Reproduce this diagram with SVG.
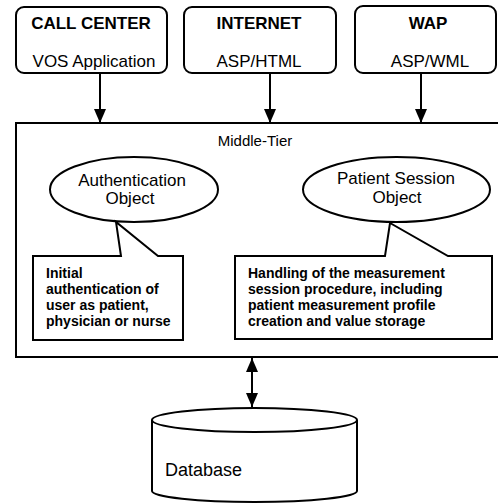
<svg xmlns="http://www.w3.org/2000/svg" width="498" height="504" viewBox="0 0 498 504">
  <style>
    .shape { fill: #fff; stroke: #000; stroke-width: 2; }
    .line { fill: none; stroke: #000; stroke-width: 2; }
    text { font-family: "Liberation Sans", Arial, sans-serif; fill: #000; }
    .title { font-size: 17px; font-weight: bold; text-anchor: middle; }
    .sub { font-size: 17px; text-anchor: middle; }
    .obj { font-size: 17px; text-anchor: middle; }
    .note { font-size: 14px; font-weight: bold; }
    .tier { font-size: 15px; text-anchor: middle; }
    .db { font-size: 18px; }
  </style>
  <defs>
    <marker id="arrow" viewBox="0 0 14 12" refX="14" refY="6" markerWidth="14" markerHeight="12" markerUnits="userSpaceOnUse" orient="auto-start-reverse">
      <path d="M0,0 L14,6 L0,12 Z" fill="#000"/>
    </marker>
  </defs>
  <rect width="498" height="504" fill="#fff"/>

  <!-- client front ends -->
  <g id="call-center">
    <rect class="shape" x="16" y="7" width="151" height="66" rx="8"/>
    <text class="title" x="91" y="29">CALL CENTER</text>
    <text class="sub" x="94" y="67">VOS Application</text>
  </g>
  <g id="internet">
    <rect class="shape" x="184" y="7" width="152" height="66" rx="8"/>
    <text class="title" x="259" y="29">INTERNET</text>
    <text class="sub" x="259" y="67">ASP/HTML</text>
  </g>
  <g id="wap">
    <rect class="shape" x="355" y="6" width="141" height="67" rx="8"/>
    <text class="title" x="428" y="29">WAP</text>
    <text class="sub" x="430" y="67">ASP/WML</text>
  </g>

  <!-- middle tier container -->
  <g id="middle-tier">
    <rect class="shape" x="16" y="123" width="490" height="234"/>
    <text class="tier" x="255" y="146">Middle-Tier</text>
  </g>

  <g id="authentication-object">
    <ellipse class="shape" cx="134" cy="189.5" rx="84" ry="32.5"/>
    <text class="obj" x="132" y="186">Authentication</text>
    <text class="obj" x="130" y="204">Object</text>
  </g>
  <g id="authentication-note">
    <path class="shape" d="M33,256 H121 L116,222 L158,256 H183 V340 H33 Z"/>
    <text class="note" x="46" y="278">Initial</text>
    <text class="note" x="46" y="294">authentication of</text>
    <text class="note" x="46" y="310">user as patient,</text>
    <text class="note" x="46" y="326">physician or nurse</text>
  </g>

  <g id="patient-session-object">
    <ellipse class="shape" cx="396.5" cy="189.5" rx="93.5" ry="32.5"/>
    <text class="obj" x="396" y="184">Patient Session</text>
    <text class="obj" x="397" y="203">Object</text>
  </g>
  <g id="patient-session-note">
    <path class="shape" d="M235,256 H385 L390,223 L448,256 H492 V339 H235 Z"/>
    <text class="note" x="248" y="278">Handling of the measurement</text>
    <text class="note" x="248" y="294">session procedure, including</text>
    <text class="note" x="248" y="310">patient measurement profile</text>
    <text class="note" x="248" y="326">creation and value storage</text>
  </g>

  <!-- storage -->
  <g id="database">
    <path class="shape" d="M152,420 V491 A102.5,11 0 0 0 357,491 V420"/>
    <ellipse class="shape" cx="254.5" cy="420" rx="102.5" ry="12"/>
    <text class="db" x="165" y="476">Database</text>
  </g>

  <!-- connectors -->
  <g id="connectors">
    <line class="line" x1="100" y1="73" x2="100" y2="123" marker-end="url(#arrow)"/>
    <line class="line" x1="270" y1="73" x2="270" y2="123" marker-end="url(#arrow)"/>
    <line class="line" x1="421" y1="73" x2="421" y2="123" marker-end="url(#arrow)"/>
    <line class="line" x1="252" y1="358" x2="252" y2="407" marker-start="url(#arrow)" marker-end="url(#arrow)"/>
  </g>
</svg>
